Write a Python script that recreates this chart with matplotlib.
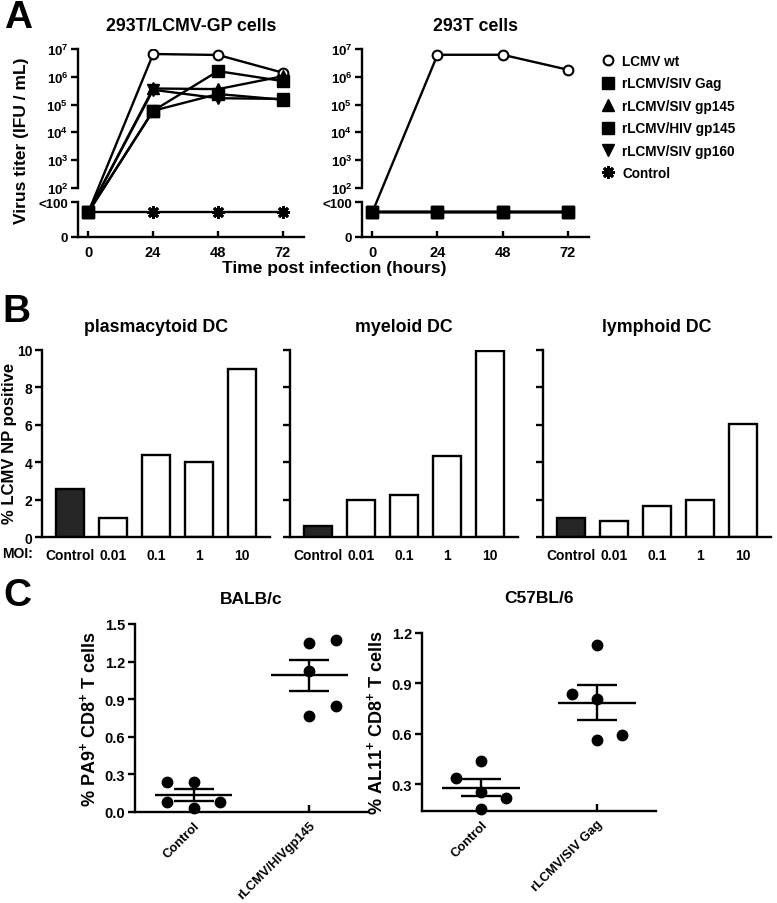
import numpy as np
import matplotlib
matplotlib.use("Agg")
import matplotlib.pyplot as plt
from matplotlib.lines import Line2D
from matplotlib.ticker import NullLocator

plt.rcParams['font.family'] = ['Liberation Sans', 'DejaVu Sans']
plt.rcParams['font.weight'] = 'bold'
plt.rcParams['axes.titleweight'] = 'bold'
plt.rcParams['axes.labelweight'] = 'bold'
plt.rcParams['mathtext.default'] = 'regular'

# ---- panel A data: virus titer (IFU/mL); BLD = below detection limit placeholder
hours = [0, 24, 48, 72]
BLD = 70
gp_lcmv_wt = [BLD, 6.6e6, 6.1e6, 1.4e6]
gp_siv_gag = [BLD, 6.0e4, 1.6e6, 7.0e5]
gp_siv_gp145 = [BLD, 3.8e5, 3.6e5, 1.05e6]
gp_hiv_gp145 = [BLD, 6.0e4, 2.4e5, 1.5e5]
gp_siv_gp160 = [BLD, 3.4e5, 1.7e5, 1.6e5]
gp_control = [BLD, BLD, BLD, BLD]

t293_lcmv_wt = [BLD, 6.2e6, 6.2e6, 1.8e6]
t293_siv_gag = [BLD, BLD, BLD, BLD]
t293_siv_gp145 = [BLD, BLD, BLD, BLD]
t293_hiv_gp145 = [BLD, BLD, BLD, BLD]
t293_siv_gp160 = [BLD, BLD, BLD, BLD]
t293_control = [BLD, BLD, BLD, BLD]

series_names = ['LCMV wt', 'rLCMV/SIV Gag', 'rLCMV/SIV gp145',
                'rLCMV/HIV gp145', 'rLCMV/SIV gp160', 'Control']

# ---- panel B data: % LCMV NP positive
moi_labels = ['Control', '0.01', '0.1', '1', '10']
pdc_pct = [2.57, 1.03, 4.40, 4.03, 8.97]
mdc_pct = [0.59, 1.97, 2.24, 4.35, 9.94]
ldc_pct = [1.00, 0.85, 1.66, 1.97, 6.03]

# ---- panel C data: tetramer+ CD8+ T cells (%)
balb_groups = ['Control', 'rLCMV/HIVgp145']
balb_ctrl = [0.243, 0.243, 0.080, 0.080, 0.030]
balb_ctrl_col = [-1, 0, -1, 1, 0]
balb_vacc = [1.345, 1.375, 1.127, 0.842, 0.762]
balb_vacc_col = [0, 1, 0, 1, 0]

c57_groups = ['Control', 'rLCMV/SIV Gag']
c57_ctrl = [0.339, 0.440, 0.253, 0.220, 0.151]
c57_ctrl_col = [-1, 0, 0, 1, 0]
c57_vacc = [1.129, 0.838, 0.809, 0.566, 0.591]
c57_vacc_col = [0, -1, 0, 0, 1]

W, H = 777, 904
LW = 1.7
fig = plt.figure(figsize=(W / 100, H / 100), dpi=100)


def px_axes(x0, y0, x1, y1):
    return fig.add_axes([x0 / W, 1 - y1 / H, (x1 - x0) / W, (y1 - y0) / H])


def style_spines(ax):
    for s in ['top', 'right']:
        ax.spines[s].set_visible(False)
    for s in ['left', 'bottom']:
        ax.spines[s].set_linewidth(LW)


# broken titer axis: linear 0..<100 below, log 10^2..10^7 above
T0, T1 = 0.237, 1.496
LOW_TOP = 99.0


def titer_fwd(v):
    v = np.asarray(v, dtype=float)
    low = T0 + (T1 - T0) * np.minimum(v, LOW_TOP) / LOW_TOP
    high = np.log10(np.maximum(v, 100.0))
    return np.where(v >= 100.0, high, low)


def titer_inv(t):
    t = np.asarray(t, dtype=float)
    low = (np.minimum(t, T1) - T0) / (T1 - T0) * LOW_TOP
    high = 10.0 ** np.maximum(t, 2.0)
    return np.where(t >= 2.0, high, np.where(t <= T1, low, LOW_TOP))


mstyles = [
    dict(marker='o', ms=7, mfc='white', mec='k', mew=1.5),
    dict(marker='s', ms=8, mfc='k', mec='k', mew=1),
    dict(marker='^', ms=8.5, mfc='k', mec='k', mew=1),
    dict(marker='s', ms=8, mfc='k', mec='k', mew=1),
    dict(marker='v', ms=8.5, mfc='k', mec='k', mew=1),
    dict(marker=(8, 2, 0), ms=9, mfc='k', mec='k', mew=2),
]


def titer_panel(ax, data, title):
    for vals, st in zip(data, mstyles):
        ax.plot(hours, vals, color='k', lw=LW, **st)
    ax.set_yscale('function', functions=(titer_fwd, titer_inv))
    ax.set_ylim(0, 1e7)
    ax.set_xlim(-3.8, 79.8)
    ticks = [0, LOW_TOP] + [10.0 ** k for k in range(2, 8)]
    labels = ['0', '<100'] + [rf'$10^{{{k}}}$' for k in range(2, 8)]
    ax.set_yticks(ticks, labels)
    ax.yaxis.set_minor_locator(NullLocator())
    ax.set_xticks(hours)
    style_spines(ax)
    ax.spines['left'].set_bounds(1e2, 1e7)
    ax.plot([0, 0], [0, LOW_TOP], transform=ax.get_yaxis_transform(),
            color='k', lw=LW, clip_on=False, solid_capstyle='projecting')
    ax.tick_params(axis='y', direction='out', length=5, width=LW, labelsize=9.5, pad=2)
    ax.tick_params(axis='x', direction='in', length=4.5, width=LW, labelsize=10.5, pad=6)
    ax.set_title(title, fontsize=12.8, pad=14)


axA1 = px_axes(78, 50, 304, 238)
titer_panel(axA1, [gp_lcmv_wt, gp_siv_gag, gp_siv_gp145, gp_hiv_gp145,
                   gp_siv_gp160, gp_control], '293T/LCMV-GP cells')
axA2 = px_axes(362, 50, 589, 238)
titer_panel(axA2, [t293_lcmv_wt, t293_control, t293_siv_gp145, t293_siv_gp160,
                   t293_siv_gag, t293_hiv_gp145], '293T cells')

fig.text(22 / W, 1 - 141 / H, 'Virus titer (IFU / mL)', fontsize=12.5,
         rotation=90, ha='center', va='center')
fig.text(334 / W, 1 - 268 / H, 'Time post infection (hours)', fontsize=12.5,
         ha='center', va='center')

handles = [Line2D([], [], ls='none', color='k', **st) for st in mstyles]
fig.legend(handles, series_names, loc='upper left', bbox_to_anchor=(601 / W, 1 - 55 / H),
           frameon=False, fontsize=9.8, handlelength=1.0, handletextpad=0.55,
           labelspacing=0.62, borderaxespad=0, borderpad=0)

# ---- panel B
b_data = [pdc_pct, mdc_pct, ldc_pct]
b_titles = ['plasmacytoid DC', 'myeloid DC', 'lymphoid DC']
b_left = [42, 290, 543]
for i, (vals, title, x0) in enumerate(zip(b_data, b_titles, b_left)):
    ax = px_axes(x0, 351, x0 + 228, 538)
    colors = ['#262626'] + ['white'] * (len(vals) - 1)
    ax.bar(range(len(vals)), vals, width=0.63, color=colors, edgecolor='k', lw=LW)
    ax.set_xlim(-0.65, 4.65)
    ax.set_ylim(0, 10)
    ax.set_yticks(range(0, 11, 2))
    if i > 0:
        ax.set_yticklabels([])
    ax.set_xticks(range(len(vals)), moi_labels)
    style_spines(ax)
    ax.tick_params(axis='y', direction='out', length=5, width=LW, labelsize=10, pad=2)
    ax.tick_params(axis='x', length=0, labelsize=10, pad=8)
    ax.set_title(title, fontsize=12.8, pad=14)

fig.text(10 / W, 1 - 443 / H, '% LCMV NP positive', fontsize=12, rotation=90,
         ha='center', va='center')
fig.text(2 / W, 1 - 554 / H, 'MOI:', fontsize=10, ha='left', va='center')


# ---- panel C
def scatter_panel(ax, groups, ctrl, ctrl_col, vacc, vacc_col, spread, title, ylabel, pad):
    for gi, (vals, cols) in enumerate([(ctrl, ctrl_col), (vacc, vacc_col)]):
        vals = np.array(vals)
        xs = gi + spread * np.array(cols)
        ax.plot(xs, vals, 'o', color='k', ms=7.5, zorder=3, clip_on=False)
        mean = vals.mean()
        sem = vals.std(ddof=1) / np.sqrt(len(vals))
        ax.hlines(mean, gi - 0.335, gi + 0.335, color='k', lw=LW, zorder=2)
        ax.errorbar(gi, mean, yerr=sem, color='k', lw=LW, capsize=14.5,
                    capthick=LW, zorder=2)
    ax.set_xlim(-0.51, 1.51)
    ax.set_xticks(range(len(groups)), groups, rotation=45, ha='right',
                  rotation_mode='anchor')
    style_spines(ax)
    ax.tick_params(axis='y', direction='out', length=5, width=LW, labelsize=10.5, pad=2)
    ax.tick_params(axis='x', direction='in', length=5, width=LW, labelsize=9.3, pad=5)
    ax.set_title(title, fontsize=12.5, pad=pad)
    ax.set_ylabel(ylabel, fontsize=13, labelpad=4)


axC1 = px_axes(135, 625, 368, 813)
scatter_panel(axC1, balb_groups, balb_ctrl, balb_ctrl_col, balb_vacc, balb_vacc_col,
              0.23, 'BALB/c', r'% PA9$^{+}$ CD8$^{+}$ T cells', 15)
axC1.set_ylim(0, 1.5)
axC1.set_yticks(np.arange(0, 1.51, 0.3), [f'{v:.1f}' for v in np.arange(0, 1.51, 0.3)])

axC2 = px_axes(422, 634, 656, 812)
scatter_panel(axC2, c57_groups, c57_ctrl, c57_ctrl_col, c57_vacc, c57_vacc_col,
              0.215, 'C57BL/6', r'% AL11$^{+}$ CD8$^{+}$ T cells', 22)
axC2.set_ylim(0.142, 1.2)
axC2.set_yticks([0.3, 0.6, 0.9, 1.2], ['0.3', '0.6', '0.9', '1.2'])

# panel letters
for letter, (lx, ly) in zip('ABC', [(4, 0), (2, 294), (3, 578)]):
    fig.text(lx / W, 1 - ly / H, letter, fontsize=28, ha='left', va='top')

fig.savefig('out.png', dpi=100)
